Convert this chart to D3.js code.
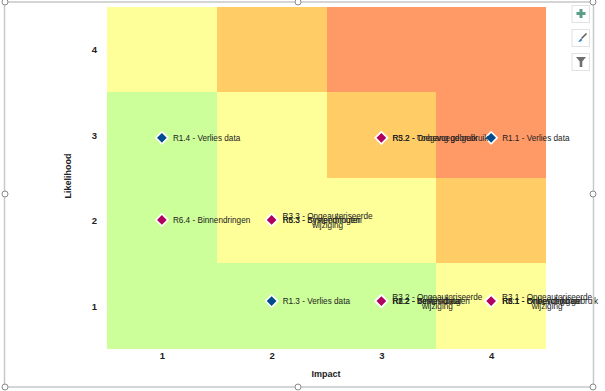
<!DOCTYPE html>
<html>
<head>
<meta charset="utf-8">
<script src="https://cdn.jsdelivr.net/npm/d3@7"></script>
<style>
  html, body { margin: 0; padding: 0; background: #fff; }
  svg { display: block; }
  text { font-family: "Liberation Sans", Arial, sans-serif; fill: #222; }
</style>
</head>
<body>
<div id="chart"></div>
<script>
let w = 605;
let h = 391;

// DATA
let impactLevels = [1, 2, 3, 4];
let likelihoodLevels = [4, 3, 2, 1];

// colour zone of each cell, top row first
let zoneRows = [
  ["yellow", "orange", "red", "red"],
  ["green", "yellow", "orange", "red"],
  ["green", "yellow", "yellow", "orange"],
  ["green", "green", "green", "yellow"]
];

let riskLabels = [
  "R1.4 - Verlies data", "R1.1 - Verlies data", "R3.2 - Onbevoegd gebruik", "R5.2 - Toegang gebruik",
  "R6.4 - Binnendringen", "R6.3 - Binnendringen", "R5.3 - Systeemfouten", "R3.3 - Ongeautoriseerde|wijziging",
  "R1.3 - Verlies data", "R1.2 - Verlies data", "R6.2 - Binnendringen", "R2.2 - Beschikbaar", "R3.2 - Ongeautoriseerde|wijziging",
  "R2.1 - Onbeschikbaar", "R6.1 - Binnendringen", "R5.1 - Onbevoegd gebruik", "R3.1 - Ongeautoriseerde|wijziging"
];
let riskImpact = [1, 4, 3, 3, 1, 2, 2, 2, 2, 3, 3, 3, 3, 4, 4, 4, 4];
let riskLikelihood = [2.97, 2.97, 2.97, 2.97, 2.01, 2.01, 2.01, 2.01, 1.06, 1.06, 1.06, 1.06, 1.06, 1.06, 1.06, 1.06, 1.06];
let riskGroup = ["blue", "blue", "red", "red", "red", "red", "red", "red", "blue", "red", "red", "red", "red", "red", "red", "red", "red"];

let zoneColors = { green: "#CCFF99", yellow: "#FFFF99", orange: "#FFCC66", red: "#FF9966" };
let markerColors = { blue: "#004C8C", red: "#B0005E" };

// SVG
let viz = d3.select("#chart").append("svg")
    .attr("width", w)
    .attr("height", h)
;

// SCALES
let plotLeft = 107, plotRight = 546, plotTop = 7, plotBottom = 349;

let xScale = d3.scaleLinear().domain([0.5, 4.5]).range([plotLeft, plotRight]);
let yScale = d3.scaleLinear().domain([0.5, 4.5]).range([plotBottom, plotTop]);

// ZONES
// snapped to whole pixels so no seams show between cells
likelihoodLevels.forEach(function(row, r){
  impactLevels.forEach(function(col, c){
    let x0 = Math.round(xScale(col - 0.5));
    let x1 = Math.round(xScale(col + 0.5));
    let y0 = Math.floor(yScale(row + 0.5));
    let y1 = Math.floor(yScale(row - 0.5));
    viz.append("rect")
      .attr("x", x0)
      .attr("y", y0)
      .attr("width", x1 - x0)
      .attr("height", y1 - y0)
      .attr("fill", zoneColors[zoneRows[r][c]])
    ;
  });
});

// AXES
let xAxis = d3.axisBottom(xScale).tickValues(impactLevels).tickFormat(d3.format("d")).tickSize(0).tickPadding(3);
let yAxis = d3.axisLeft(yScale).tickValues(impactLevels).tickFormat(d3.format("d")).tickSize(0).tickPadding(10);

let xGroup = viz.append("g").attr("transform", "translate(0," + plotBottom + ")").call(xAxis);
let yGroup = viz.append("g").attr("transform", "translate(" + plotLeft + ",0)").call(yAxis);
xGroup.select(".domain").remove();
yGroup.select(".domain").remove();
viz.selectAll(".tick text")
  .style("font-size", "9.5px")
  .style("font-weight", "bold")
  .style("font-family", '"Liberation Sans", Arial, sans-serif')
  .attr("fill", "#222")
;

viz.append("text")
  .attr("x", 326)
  .attr("y", 377)
  .attr("text-anchor", "middle")
  .style("font-size", "9px")
  .style("font-weight", "bold")
  .text("Impact")
;

viz.append("text")
  .attr("transform", "translate(71,176) rotate(-90)")
  .attr("text-anchor", "middle")
  .style("font-size", "9px")
  .style("font-weight", "bold")
  .text("Likelihood")
;

// POINTS
let symbol = d3.symbol().type(d3.symbolSquare);

let points = viz.selectAll(".risk").data(riskLabels).enter()
  .append("g")
    .attr("class", "risk")
    .attr("transform", function(d, i){
      return "translate(" + xScale(riskImpact[i]) + "," + yScale(riskLikelihood[i]) + ")";
    })
;

points.append("path")
  .attr("d", symbol.size(72))
  .attr("transform", "rotate(45)")
  .attr("fill", function(d, i){ return markerColors[riskGroup[i]]; })
  .attr("stroke", "#fff")
  .attr("stroke-width", 1.6)
;

// labels, wrapped ones are centred like in the original
points.each(function(d){
  let lines = d.split("|");
  let g = d3.select(this);
  if (lines.length == 1) {
    g.append("text")
      .attr("x", 11)
      .attr("y", 3)
      .style("font-size", "8.2px")
      .text(d);
  } else {
    g.append("text")
      .attr("x", 56)
      .attr("y", -1)
      .attr("text-anchor", "middle")
      .style("font-size", "8.2px")
      .selectAll("tspan").data(lines).enter()
      .append("tspan")
        .attr("x", 56)
        .attr("dy", function(l, i){ return i == 0 ? 0 : 9; })
        .text(function(l){ return l; });
  }
});

// SELECTION FRAME
let frame = viz.append("g");
frame.append("rect")
  .attr("x", 4.5).attr("y", 2)
  .attr("width", 589).attr("height", 385)
  .attr("fill", "none")
  .attr("stroke", "#c8c8c8")
  .attr("stroke-width", 1.5)
;
let handleX = [5, 298, 593];
let handleY = [2, 194, 387];
handleX.forEach(function(hx, i){
  handleY.forEach(function(hy, j){
    if (i == 1 && j == 1) return;
    frame.append("circle")
      .attr("cx", hx).attr("cy", hy).attr("r", 3)
      .attr("fill", "#fff")
      .attr("stroke", "#8a8a8a")
      .attr("stroke-width", 1);
  });
});

// SIDE BUTTONS
let buttons = viz.append("g");
[5, 29, 53].forEach(function(by){
  buttons.append("rect")
    .attr("x", 572).attr("y", by + 0.5)
    .attr("width", 17.5).attr("height", 17)
    .attr("fill", "#fff")
    .attr("stroke", "#e2e2e2");
});
buttons.append("path")
  .attr("d", "M579.5 9h3v3h3v3h-3v3h-3v-3h-3v-3h3z")
  .attr("fill", "#5a9e86");
buttons.append("path")
  .attr("d", "M586 33l1 1-5 5-1-1z")
  .attr("fill", "#555");
buttons.append("path")
  .attr("d", "M581 38.5l1.2 1.2c-.6 1.6-2 2.2-4.2 2.2 1.3-.8 1.6-2.4 3-3.4z")
  .attr("fill", "#2f78c4");
buttons.append("path")
  .attr("d", "M576 57h10l-3.7 4.6v5.4h-2.6v-5.4z")
  .attr("fill", "#6e6e6e");
</script>
</body>
</html>
